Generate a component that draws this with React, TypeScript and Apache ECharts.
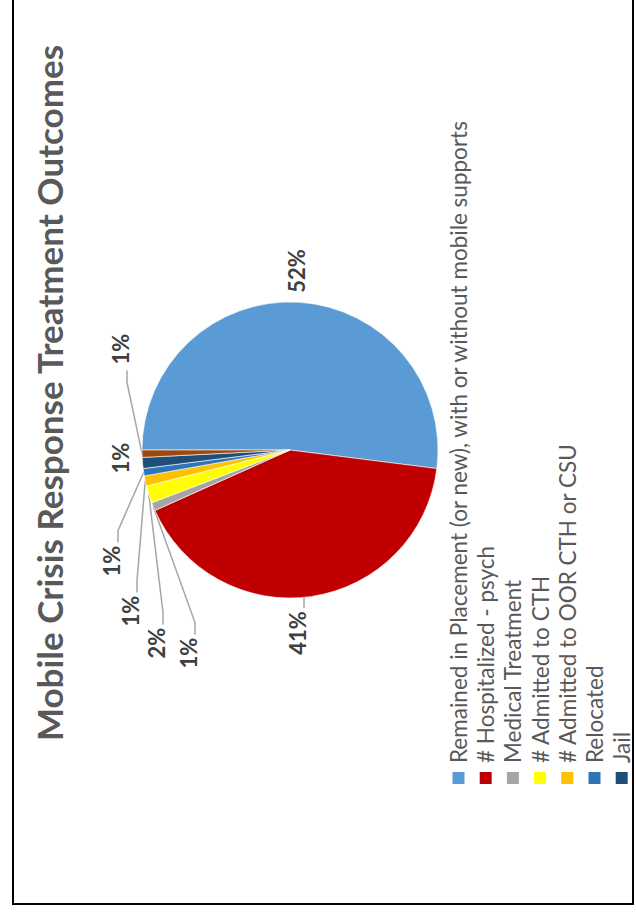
import React, { useEffect, useRef } from 'react';
import * as echarts from 'echarts';

// ---- data ----
const TITLE = 'Mobile Crisis Response Treatment Outcomes';
const categories = [
  'Remained in Placement (or new), with or without mobile supports',
  '# Hospitalized - psych',
  'Medical Treatment',
  '# Admitted to CTH',
  '# Admitted to OOR CTH or CSU',
  'Relocated',
  'Jail',
  'Other',
];
const values = [520, 413, 9, 19, 11, 8, 12, 8];
const legendNames = categories.slice(0, 7);

// ---- styles ----
const colors = ['#5B9BD5', '#C00000', '#A5A5A5', '#FFFF00', '#FFC000', '#2E75B6', '#1F4E79', '#9E480E'];
// data-label placement (offset from pie centre, in the un-rotated chart frame)
const labelOffsets = [
  [179, 6], [-183, 7], [-203, -102], [-193, -134], [-161, -160], [-111, -179], [-8, -170], [101, -170],
];
const showLine = [false, true, true, true, true, true, false, true];

const W = 905;
const H = 624;
const CX = 455;
const CY = 278;
const R = 148;

export default function App() {
  const ref = useRef<HTMLDivElement>(null);
  useEffect(() => {
    document.body.style.overflow = 'hidden';
    const chart = echarts.init(ref.current!, null, { renderer: 'svg' });
    const option: any = {
      animation: false,
      backgroundColor: '#fff',
      graphic: [
        {
          type: 'rect',
          silent: true,
          z: -1,
          shape: { x: 1, y: 1, width: 1000, height: 620 },
          style: { fill: 'none', stroke: '#000', lineWidth: 2 },
        },
        {
          type: 'text',
          x: 512,
          y: 37,
          style: {
            text: TITLE,
            fontFamily: 'Lato',
            fontWeight: 'bold',
            fontSize: 35,
            fill: '#595959',
            align: 'center',
            verticalAlign: 'middle',
          },
        },
      ],
      legend: {
        orient: 'vertical',
        left: 114,
        top: 430,
        height: 400,
        itemWidth: 14,
        itemHeight: 14,
        itemGap: 4.2,
        icon: 'rect',
        selectedMode: false,
        data: legendNames,
        textStyle: {
          fontFamily: 'Lato',
          fontSize: 22.5,
          color: '#595959',
          padding: [0, 0, 0, 3],
        },
      },
      series: [
        {
          type: 'pie',
          center: [CX, CY],
          radius: [0, R],
          startAngle: 90,
          clockwise: true,
          avoidLabelOverlap: false,
          itemStyle: { borderColor: '#fff', borderWidth: 0.6 },
          label: {
            show: true,
            position: 'outside',
            formatter: (p: any) => Math.round(p.percent) + '%',
            fontFamily: 'Lato',
            fontWeight: 'bold',
            fontSize: 22,
            color: '#404040',
          },
          labelLine: {
            show: true,
            length: 10,
            length2: 10,
            smooth: false,
            lineStyle: { color: '#A6A6A6', width: 1.5 },
          },
          labelLayout: (params: any) => {
            const i = params.dataIndex;
            const [ox, oy] = labelOffsets[i];
            const x = CX + ox;
            const y = CY + oy;
            const res: any = { x, y, align: 'center', verticalAlign: 'middle' };
            const pts = params.labelLinePoints;
            if (showLine[i] && pts && pts.length) {
              const start = pts[0];
              const hw = params.labelRect.width / 2;
              const toLeft = x < start[0];
              const endX = toLeft ? x + hw + 3 : x - hw - 6;
              const endY = y + 7;
              const elbowX = toLeft ? endX + 12 : endX - 12;
              res.labelLinePoints = [start, [elbowX, endY], [endX, endY]];
            }
            return res;
          },
          data: categories.map((name, i) => ({
            name,
            value: values[i],
            itemStyle: { color: colors[i] },
            labelLine: { show: showLine[i] },
          })),
        },
      ],
    };
    chart.setOption(option);
    return () => chart.dispose();
  }, []);
  return (
    <div
      ref={ref}
      style={{
        position: 'absolute',
        left: 0,
        top: 0,
        width: W,
        height: H,
        transformOrigin: '0 0',
        transform: 'translate(12px, 905px) rotate(-90deg)',
      }}
    />
  );
}
